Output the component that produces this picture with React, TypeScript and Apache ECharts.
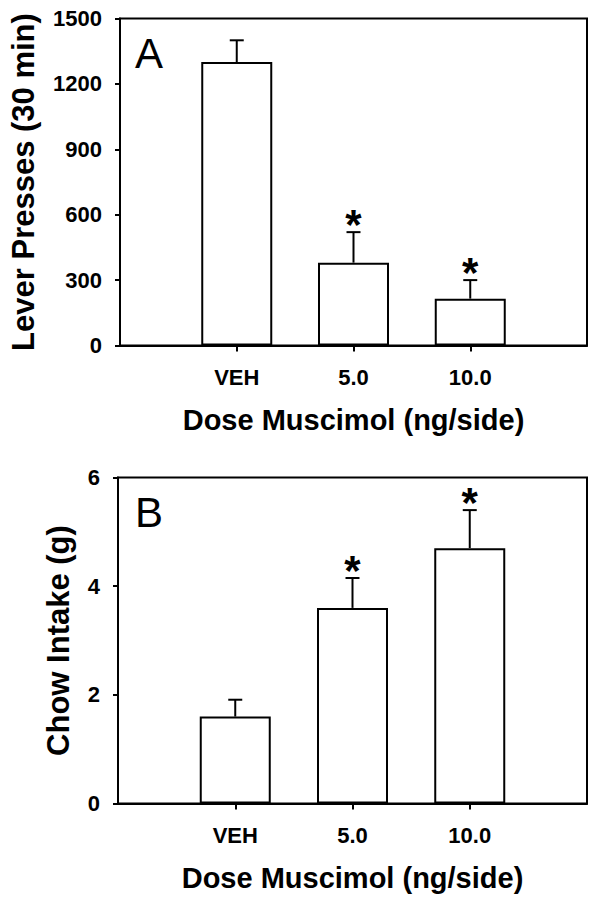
import React, { useEffect, useRef } from "react";
import * as echarts from "echarts";

const categories = ["VEH", "5.0", "10.0"];

const leverMeans = [1300, 380, 215];
const leverSEM = [100, 140, 85];
const leverSig = [false, true, true];
const leverTicks = { min: 0, max: 1500, interval: 300 };

const chowMeans = [1.6, 3.6, 4.7];
const chowSEM = [0.31, 0.55, 0.7];
const chowSig = [false, true, true];
const chowTicks = { min: 0, max: 6, interval: 2 };

const xTitle = "Dose Muscimol (ng/side)";
const leverTitle = "Lever Presses (30 min)";
const chowTitle = "Chow Intake (g)";
const panelLabels = ["A", "B"];

const FONT = "'Liberation Sans', Arial, Helvetica, sans-serif";

export default function App() {
  const ref = useRef<HTMLDivElement>(null);

  useEffect(() => {
    if (!ref.current) return;
    const chart = echarts.init(ref.current, null, { renderer: "svg" });

    const axisData = ["", ...categories, ""];
    const padded = (arr: number[]) => ["-", ...arr, "-"];

    const xAxisFor = (gridIndex: number) => ({
      type: "category",
      gridIndex,
      data: axisData,
      boundaryGap: false,
      axisLine: { show: true, lineStyle: { color: "#000", width: 2 } },
      axisTick: {
        show: true,
        length: 6,
        inside: false,
        interval: (i: number) => i >= 1 && i <= categories.length,
        lineStyle: { color: "#000", width: 2 },
      },
      axisLabel: {
        interval: 0,
        color: "#000",
        fontWeight: "bold",
        fontSize: 22,
        fontFamily: FONT,
        margin: 21,
      },
      splitLine: { show: false },
      name: xTitle,
      nameLocation: "middle",
      nameGap: 60,
      nameTextStyle: { color: "#000", fontWeight: "bold", fontSize: 29, fontFamily: FONT },
    });

    const yAxisFor = (gridIndex: number, t: any, name: string, gap: number) => ({
      type: "value",
      gridIndex,
      min: t.min,
      max: t.max,
      interval: t.interval,
      axisLine: { show: true, lineStyle: { color: "#000", width: 2 } },
      axisTick: { show: true, length: 5, inside: false, lineStyle: { color: "#000", width: 2 } },
      axisLabel: {
        color: "#000",
        fontWeight: "bold",
        fontSize: 22,
        fontFamily: FONT,
        margin: 18,
        formatter: (v: number) => String(v),
      },
      splitLine: { show: false },
      name,
      nameLocation: "middle",
      nameRotate: 90,
      nameGap: gap,
      nameTextStyle: { color: "#000", fontWeight: "bold", fontSize: 31, fontFamily: FONT },
    });

    const barSeries = (idx: number, means: number[]) => ({
      type: "bar",
      xAxisIndex: idx,
      yAxisIndex: idx,
      data: padded(means),
      barWidth: 71,
      itemStyle: { color: "#fff", borderColor: "#000", borderWidth: 2 },
      silent: true,
    });

    const errSeries = (idx: number, means: number[], sem: number[], sig: boolean[]) => ({
      type: "custom",
      xAxisIndex: idx,
      yAxisIndex: idx,
      encode: { x: 0, y: 1 },
      data: means.map((m, i) => [i + 1, m, sem[i], sig[i] ? 1 : 0]),
      renderItem: (params: any, api: any) => {
        const x = api.value(0);
        const m = api.value(1);
        const e = api.value(2);
        const s = api.value(3);
        const base = api.coord([x, m]);
        const top = api.coord([x, m + e]);
        const stroke = { stroke: "#000", lineWidth: 2 };
        const children: any[] = [
          { type: "line", shape: { x1: base[0], y1: base[1], x2: top[0], y2: top[1] }, style: stroke },
          { type: "line", shape: { x1: top[0] - 7, y1: top[1], x2: top[0] + 7, y2: top[1] }, style: stroke },
        ];
        if (s) {
          children.push({
            type: "text",
            style: {
              text: "*",
              x: top[0],
              y: top[1] - 8,
              align: "center",
              verticalAlign: "middle",
              fill: "#000",
              font: `bold 42px ${FONT}`,
            },
          });
        }
        return { type: "group", children };
      },
      silent: true,
    });

    chart.setOption({
      animation: false,
      backgroundColor: "#fff",
      grid: [
        { left: 118, top: 18.5, width: 469, height: 327, show: true, borderColor: "#000", borderWidth: 2, backgroundColor: "transparent" },
        { left: 118, top: 477.5, width: 469, height: 326, show: true, borderColor: "#000", borderWidth: 2, backgroundColor: "transparent" },
      ],
      xAxis: [xAxisFor(0), xAxisFor(1)],
      yAxis: [
        yAxisFor(0, leverTicks, leverTitle, 81),
        yAxisFor(1, chowTicks, chowTitle, 44),
      ],
      series: [
        barSeries(0, leverMeans),
        errSeries(0, leverMeans, leverSEM, leverSig),
        barSeries(1, chowMeans),
        errSeries(1, chowMeans, chowSEM, chowSig),
      ],
      graphic: [
        { type: "text", left: 135, top: 32, style: { text: panelLabels[0], font: `42px ${FONT}`, fill: "#000" } },
        { type: "text", left: 135, top: 491, style: { text: panelLabels[1], font: `42px ${FONT}`, fill: "#000" } },
      ],
    });

    return () => chart.dispose();
  }, []);

  return (
    <div
      ref={ref}
      style={{ position: "absolute", left: 0, top: 0, width: 600, height: 899 }}
    />
  );
}
